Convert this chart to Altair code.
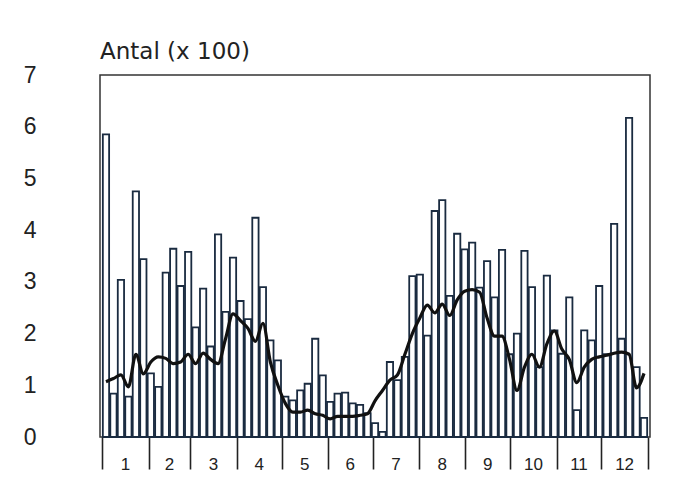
import altair as alt
import pandas as pd

# Counts per 5-day period (x 100), 73 periods over the year
counts = [5.85, 0.84, 3.04, 0.78, 4.75, 3.44, 1.23, 0.97, 3.18, 3.64, 2.92, 3.58,
          2.12, 2.87, 1.75, 3.92, 2.42, 3.47, 2.63, 2.28, 4.24, 2.90, 1.87, 1.48,
          0.78, 0.71, 0.90, 1.03, 1.90, 1.19, 0.68, 0.84, 0.86, 0.65, 0.62, 0.46,
          0.27, 0.10, 1.45, 1.10, 1.55, 3.11, 3.14, 1.96, 4.37, 4.58, 2.73, 3.93,
          3.63, 3.76, 2.89, 3.40, 2.70, 3.62, 1.60, 2.00, 3.60, 2.90, 1.35, 3.12,
          2.06, 1.61, 2.70, 0.52, 2.06, 1.87, 2.92, 1.60, 4.12, 1.90, 6.17, 1.35,
          0.37]

# Smoothed (moving average) curve
smooth = [1.07, 1.13, 1.20, 0.97, 1.60, 1.22, 1.45, 1.55, 1.52, 1.42, 1.45, 1.60,
          1.42, 1.62, 1.50, 1.42, 1.90, 2.38, 2.25, 2.10, 1.85, 2.20, 1.45, 1.00,
          0.65, 0.48, 0.48, 0.52, 0.45, 0.42, 0.35, 0.40, 0.40, 0.40, 0.42, 0.45,
          0.70, 0.90, 1.10, 1.20, 1.60, 2.00, 2.30, 2.55, 2.40, 2.57, 2.35, 2.65,
          2.82, 2.85, 2.80, 2.30, 1.95, 1.95, 1.50, 0.90, 1.35, 1.60, 1.35, 1.80,
          2.05, 1.70, 1.50, 1.05, 1.35, 1.50, 1.55, 1.58, 1.62, 1.64, 1.60, 0.95,
          1.23]

month_labels = ["1", "2", "3", "4", "5", "6", "7", "8", "9", "10", "11", "12"]
# month boundaries in 5-day periods
month_bounds = [0, 6.2, 11.8, 18, 24, 30.2, 36.2, 42.4, 48.6, 54.6, 60.8, 66.8, 73]

W, H = 550, 362
DARK = "#1a2b40"

df = pd.DataFrame({
    "period": list(range(len(counts))),
    "value": counts,
    "smooth": smooth,
})
df["start"] = df["period"] + 0.08
df["end"] = df["period"] + 0.92
df["mid"] = df["period"] + 0.5

mdf = pd.DataFrame({
    "month": month_labels,
    "mid": [(month_bounds[i] + month_bounds[i + 1]) / 2 for i in range(12)],
})

xscale = alt.Scale(domain=[-0.3, 73.3], nice=False, zero=False)
yscale = alt.Scale(domain=[0, 7], nice=False)

bars = alt.Chart(df).mark_bar(fill="white", stroke=DARK, strokeWidth=1.8).encode(
    x=alt.X("start:Q", scale=xscale,
            axis=alt.Axis(values=month_bounds, labels=False, tickSize=32,
                          tickWidth=1.6, tickColor="#222", domain=False,
                          grid=False, title=None)),
    x2="end:Q",
    y=alt.Y("value:Q", scale=yscale,
            axis=alt.Axis(values=list(range(8)), format="d", ticks=False,
                          domain=False, grid=False, labelPadding=64,
                          labelFontSize=23, labelColor="#222",
                          labelFont="Liberation Sans", title=None)),
    y2=alt.datum(0),
)

line = alt.Chart(df).mark_line(color="#111111", strokeWidth=3.2,
                               interpolate="monotone").encode(
    x=alt.X("mid:Q", scale=xscale),
    y=alt.Y("smooth:Q", scale=yscale),
)

labels = alt.Chart(mdf).mark_text(fontSize=17, font="Liberation Sans",
                                  color="#222", baseline="middle").encode(
    x=alt.X("mid:Q", scale=xscale),
    y=alt.value(H + 28),
    text="month:N",
)

chart = alt.layer(bars, line, labels).properties(
    width=W, height=H,
    padding={"left": 15, "top": 33, "right": 5, "bottom": 5},
    title=alt.TitleParams("Antal (x 100)", anchor="start", fontSize=23,
                          font="DejaVu Sans", fontWeight="normal",
                          color="#222", offset=0, frame="group"),
).configure(
    background="white",
    view=alt.ViewConfig(stroke="#333333", strokeWidth=1.5),
)

chart.save("out.html", embed_options={"renderer": "svg", "actions": False})
